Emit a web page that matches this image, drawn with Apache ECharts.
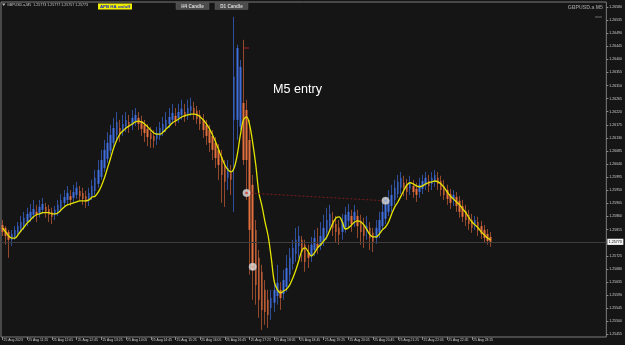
<!DOCTYPE html>
<html><head><meta charset="utf-8">
<script src="https://cdn.jsdelivr.net/npm/echarts@6/dist/echarts.min.js"></script>
<style>html,body{margin:0;padding:0;background:#151515;}#c{width:625px;height:345px;}</style>
</head><body><div id="c"></div>
<script>
const tickLabels = ["25 Aug 2023","25 Aug 11:25","25 Aug 12:05","25 Aug 12:45","25 Aug 13:25","25 Aug 14:05","25 Aug 14:45","25 Aug 15:25","25 Aug 16:05","25 Aug 16:45","25 Aug 17:25","25 Aug 18:05","25 Aug 18:45","25 Aug 19:25","25 Aug 20:05","25 Aug 20:45","25 Aug 21:25","25 Aug 22:05","25 Aug 22:45","25 Aug 23:25"];
const priceTicks = [1.26580,1.26535,1.26490,1.26445,1.26400,1.26355,1.26310,1.26265,1.26220,1.26175,1.26130,1.26085,1.26040,1.25995,1.25950,1.25905,1.25860,1.25815,1.25725,1.25680,1.25635,1.25590,1.25545,1.25500,1.25455];
const opens = [1.25831,1.25821,1.25807,1.25780,1.25790,1.25804,1.25817,1.25827,1.25841,1.25856,1.25866,1.25876,1.25873,1.25883,1.25893,1.25886,1.25876,1.25866,1.25876,1.25890,
1.25907,1.25917,1.25930,1.25924,1.25934,1.25948,1.25941,1.25930,1.25920,1.25930,1.25948,1.25972,1.25996,1.26027,1.26058,1.26086,1.26113,1.26140,1.26164,1.26154,
1.26168,1.26185,1.26175,1.26188,1.26199,1.26188,1.26175,1.26161,1.26147,1.26137,1.26126,1.26137,1.26150,1.26164,1.26178,1.26192,1.26206,1.26199,1.26209,1.26219,
1.26212,1.26223,1.26233,1.26223,1.26209,1.26192,1.26175,1.26157,1.26137,1.26113,1.26089,1.26065,1.26033,1.25993,1.26010,1.26192,1.26192,1.26168,1.26250,1.26226,
1.26123,1.25969,1.25814,1.25718,1.25670,1.25608,1.25574,1.25546,1.25564,1.25587,1.25608,1.25594,1.25618,1.25660,1.25697,1.25731,1.25759,1.25780,1.25763,1.25735,
1.25724,1.25745,1.25766,1.25759,1.25776,1.25804,1.25827,1.25848,1.25834,1.25821,1.25807,1.25824,1.25845,1.25862,1.25848,1.25862,1.25845,1.25827,1.25811,1.25821,
1.25804,1.25786,1.25804,1.25827,1.25852,1.25876,1.25896,1.25917,1.25937,1.25959,1.25976,1.25969,1.25955,1.25965,1.25955,1.25944,1.25955,1.25969,1.25982,1.25972,
1.25982,1.25993,1.25982,1.25965,1.25951,1.25937,1.25920,1.25927,1.25914,1.25896,1.25879,1.25866,1.25848,1.25834,1.25841,1.25827,1.25814,1.25800,1.25790];
const closes = [1.25807,1.25793,1.25780,1.25800,1.25814,1.25827,1.25841,1.25856,1.25869,1.25876,1.25886,1.25866,1.25893,1.25903,1.25876,1.25866,1.25859,1.25883,1.25900,1.25917,
1.25927,1.25941,1.25917,1.25944,1.25959,1.25930,1.25920,1.25910,1.25941,1.25965,1.25993,1.26020,1.26054,1.26089,1.26113,1.26140,1.26164,1.26185,1.26143,1.26178,
1.26192,1.26168,1.26199,1.26209,1.26178,1.26161,1.26147,1.26133,1.26126,1.26120,1.26147,1.26164,1.26178,1.26192,1.26202,1.26216,1.26188,1.26219,1.26230,1.26202,
1.26233,1.26240,1.26212,1.26195,1.26178,1.26157,1.26137,1.26113,1.26089,1.26061,1.26037,1.26003,1.25979,1.26027,1.25986,1.26340,1.26439,1.26374,1.26054,1.26054,
1.25814,1.25677,1.25625,1.25574,1.25539,1.25532,1.25522,1.25580,1.25608,1.25632,1.25580,1.25642,1.25683,1.25718,1.25752,1.25780,1.25793,1.25738,1.25704,1.25718,
1.25763,1.25786,1.25752,1.25793,1.25821,1.25848,1.25869,1.25821,1.25807,1.25797,1.25841,1.25866,1.25876,1.25834,1.25876,1.25827,1.25807,1.25793,1.25827,1.25786,
1.25773,1.25821,1.25848,1.25876,1.25900,1.25917,1.25934,1.25959,1.25979,1.25993,1.25959,1.25944,1.25976,1.25944,1.25934,1.25969,1.25982,1.25993,1.25965,1.25993,
1.26003,1.25972,1.25951,1.25934,1.25920,1.25907,1.25934,1.25896,1.25876,1.25859,1.25848,1.25834,1.25821,1.25848,1.25811,1.25800,1.25786,1.25776,1.25773];
const lows = [1.25793,1.25763,1.25718,1.25759,1.25780,1.25793,1.25807,1.25814,1.25827,1.25841,1.25852,1.25841,1.25856,1.25869,1.25856,1.25841,1.25834,1.25848,1.25862,1.25876,
1.25893,1.25903,1.25896,1.25907,1.25920,1.25914,1.25900,1.25890,1.25896,1.25917,1.25934,1.25959,1.25986,1.26013,1.26044,1.26072,1.26099,1.26123,1.26116,1.26137,
1.26150,1.26147,1.26157,1.26171,1.26157,1.26137,1.26116,1.26102,1.26096,1.26096,1.26106,1.26123,1.26137,1.26150,1.26164,1.26178,1.26171,1.26182,1.26192,1.26185,
1.26192,1.26206,1.26192,1.26178,1.26157,1.26130,1.26106,1.26082,1.26054,1.26027,1.25986,1.25907,1.25893,1.25951,1.25934,1.25876,1.26123,1.26157,1.26037,1.25917,
1.25660,1.25574,1.25557,1.25512,1.25470,1.25488,1.25477,1.25505,1.25532,1.25557,1.25539,1.25574,1.25601,1.25635,1.25677,1.25704,1.25718,1.25704,1.25670,1.25683,
1.25704,1.25724,1.25731,1.25745,1.25759,1.25780,1.25807,1.25793,1.25770,1.25763,1.25780,1.25804,1.25821,1.25807,1.25824,1.25786,1.25763,1.25752,1.25780,1.25745,
1.25738,1.25766,1.25786,1.25814,1.25834,1.25862,1.25876,1.25900,1.25924,1.25937,1.25930,1.25917,1.25934,1.25924,1.25910,1.25924,1.25937,1.25951,1.25944,1.25951,
1.25962,1.25951,1.25930,1.25917,1.25900,1.25886,1.25896,1.25876,1.25856,1.25841,1.25827,1.25814,1.25804,1.25814,1.25793,1.25783,1.25770,1.25763,1.25756];
const highs = [1.25848,1.25827,1.25814,1.25814,1.25827,1.25841,1.25862,1.25876,1.25890,1.25903,1.25917,1.25900,1.25917,1.25924,1.25907,1.25900,1.25890,1.25896,1.25917,1.25937,
1.25951,1.25965,1.25951,1.25969,1.25979,1.25965,1.25959,1.25948,1.25959,1.25986,1.26020,1.26054,1.26089,1.26123,1.26150,1.26175,1.26199,1.26219,1.26192,1.26209,
1.26219,1.26209,1.26226,1.26233,1.26219,1.26206,1.26192,1.26178,1.26168,1.26157,1.26168,1.26185,1.26202,1.26219,1.26233,1.26247,1.26233,1.26247,1.26261,1.26247,
1.26261,1.26268,1.26254,1.26240,1.26226,1.26212,1.26192,1.26175,1.26157,1.26133,1.26109,1.26089,1.26054,1.26054,1.26037,1.26546,1.26450,1.26398,1.26467,1.26261,
1.26192,1.26003,1.25848,1.25745,1.25694,1.25642,1.25608,1.25608,1.25642,1.25694,1.25635,1.25677,1.25728,1.25752,1.25780,1.25821,1.25827,1.25793,1.25780,1.25763,
1.25790,1.25814,1.25821,1.25841,1.25866,1.25890,1.25900,1.25876,1.25862,1.25848,1.25869,1.25893,1.25903,1.25883,1.25900,1.25883,1.25866,1.25856,1.25862,1.25841,
1.25821,1.25848,1.25876,1.25907,1.25927,1.25951,1.25969,1.25986,1.26003,1.26013,1.26000,1.25989,1.26000,1.25986,1.25976,1.25993,1.26003,1.26013,1.26003,1.26013,
1.26020,1.26013,1.26000,1.25986,1.25969,1.25955,1.25951,1.25944,1.25930,1.25917,1.25900,1.25883,1.25869,1.25862,1.25859,1.25845,1.25831,1.25817,1.25807];
const hma = [1.25821,1.25807,1.25793,1.25786,1.25786,1.25797,1.25811,1.25824,1.25838,1.25848,1.25859,1.25866,1.25869,1.25873,1.25873,1.25873,1.25869,1.25869,1.25873,1.25883,
1.25893,1.25900,1.25903,1.25907,1.25910,1.25914,1.25914,1.25914,1.25917,1.25927,1.25930,1.25944,1.25965,1.25993,1.26027,1.26061,1.26096,1.26123,1.26143,1.26154,
1.26164,1.26171,1.26178,1.26185,1.26188,1.26185,1.26178,1.26168,1.26157,1.26147,1.26143,1.26143,1.26150,1.26161,1.26171,1.26182,1.26188,1.26195,1.26202,1.26206,
1.26209,1.26212,1.26212,1.26209,1.26202,1.26192,1.26178,1.26161,1.26140,1.26116,1.26089,1.26061,1.26037,1.26020,1.26013,1.26027,1.26072,1.26140,1.26192,1.26202,
1.26175,1.26113,1.26037,1.25941,1.25896,1.25841,1.25793,1.25718,1.25635,1.25608,1.25598,1.25604,1.25611,1.25625,1.25649,1.25677,1.25711,1.25745,1.25752,1.25738,
1.25724,1.25735,1.25752,1.25763,1.25776,1.25790,1.25814,1.25838,1.25856,1.25859,1.25841,1.25817,1.25821,1.25831,1.25841,1.25845,1.25841,1.25831,1.25814,1.25797,
1.25790,1.25790,1.25800,1.25814,1.25824,1.25841,1.25869,1.25893,1.25910,1.25930,1.25951,1.25969,1.25976,1.25972,1.25965,1.25962,1.25965,1.25972,1.25976,1.25979,
1.25982,1.25979,1.25972,1.25959,1.25944,1.25930,1.25920,1.25910,1.25900,1.25886,1.25873,1.25856,1.25841,1.25831,1.25821,1.25807,1.25797,1.25786,1.25780];
const entryPoints = [[79,1.25941],[81,1.25687],[124,1.25914]];
const entryLine = [[79,1.25941],[124,1.25914]];
const stopMark = [[79,1.26439]];
const lastPrice = 1.25773;
const headerText = "GBPUSD.a,M5  1.25773 1.25777 1.25757 1.25773";
const symbolText = "GBPUSD.a M5";
const noteText = "M5 entry";

const SLOTS = 196;
const cats = Array.from({length: SLOTS}, (_, k) => String(k));
const isBull = i => closes[i] >= opens[i];
const wickData = opens.map((o, i) => isBull(i) ? [lows[i], highs[i], lows[i], highs[i]] : [highs[i], lows[i], lows[i], highs[i]]);
const bodyData = opens.map((o, i) => [o, closes[i], Math.min(o, closes[i]), Math.max(o, closes[i])]);
const showTick = (idx) => idx % 8 === 0 && idx / 8 < tickLabels.length;
const FF = '"Liberation Sans", Arial, sans-serif';

const chart = echarts.init(document.getElementById('c'), null, {renderer: 'canvas'});
chart.setOption({
  animation: false,
  backgroundColor: '#151515',
  grid: {left: 1, right: 18, top: 2, bottom: 8, show: true, borderColor: '#7c7c7c', borderWidth: 1},
  xAxis: {
    type: 'category', data: cats, boundaryGap: true,
    axisLine: {show: false},
    axisTick: {show: true, interval: showTick, alignWithLabel: true, length: 3, lineStyle: {color: '#8a8a8a', width: 1}},
    axisLabel: {interval: showTick, formatter: (v, idx) => tickLabels[idx / 8] || '', align: 'left', margin: 1.5, fontSize: 3.4, color: '#cfcfcf', fontFamily: FF, padding: [0, 0, 0, 1]},
    splitLine: {show: false}
  },
  yAxis: {
    type: 'value', position: 'right', min: 1.25446, max: 1.26597,
    axisLine: {show: false},
    axisTick: {show: true, customValues: priceTicks, length: 2, lineStyle: {color: '#8a8a8a'}},
    axisLabel: {customValues: priceTicks, formatter: v => v.toFixed(5), fontSize: 3.5, color: '#cfcfcf', margin: 3, fontFamily: FF},
    splitLine: {show: false}
  },
  series: [
    {
      type: 'line', name: 'priceLine', data: [], symbol: 'none', z: 1,
      markLine: {
        silent: true, symbol: 'none', animation: false, precision: 5,
        data: [{yAxis: lastPrice}],
        lineStyle: {color: '#3d3d3d', type: 'solid', width: 1},
        label: {show: true, position: 'end', formatter: lastPrice.toFixed(5), backgroundColor: '#f2f2f2', color: '#000', fontSize: 3.6, fontFamily: FF, padding: [1.2, 1.5, 1, 1.5], distance: 1}
      }
    },
    {
      type: 'candlestick', name: 'wick', data: wickData, barWidth: 1,
      itemStyle: {color: '#2f4f9c', color0: '#94482c', borderColor: '#2f4f9c', borderColor0: '#94482c', borderWidth: 1}
    },
    {
      type: 'candlestick', name: 'body', data: bodyData, barWidth: 2,
      itemStyle: {color: '#3f6fdc', color0: '#e4703e', borderColor: '#3f6fdc', borderColor0: '#e4703e', borderWidth: 0}
    },
    {
      type: 'line', name: 'hma', data: hma, smooth: 0.35, symbol: 'none',
      lineStyle: {color: '#e4e400', width: 1.3}, z: 5
    },
    {
      type: 'line', name: 'entry', data: entryLine, symbol: 'none',
      lineStyle: {color: '#7e1c1c', width: 1, type: [2, 2]}, z: 6
    },
    {
      type: 'scatter', data: stopMark, symbol: 'rect', symbolSize: [5, 1.2],
      itemStyle: {color: '#b82020'}, z: 7
    },
    {
      type: 'scatter', data: entryPoints, symbol: 'circle', symbolSize: 7.5,
      itemStyle: {color: '#e2e2e2', borderColor: '#bdbdbd', borderWidth: 0.5}, z: 8
    },
    {
      type: 'scatter', data: entryPoints.map((p, i) => ({value: p, itemStyle: {color: ['#d02a2a', '#e0a080', '#90a4dc'][i]}})),
      symbol: 'circle', symbolSize: 2.6, z: 9
    }
  ],
  graphic: [
    {type: 'polygon', shape: {points: [[2, 3.5], [5.5, 3.5], [3.75, 6]]}, style: {fill: '#bdbdbd'}},
    {type: 'text', x: 7, y: 4.8, style: {text: headerText, fill: '#c8c8c8', fontSize: 3.6, fontFamily: FF, textVerticalAlign: 'middle'}},
    {type: 'rect', shape: {x: 98, y: 3.5, width: 34, height: 6}, style: {fill: '#f0f000'}},
    {type: 'text', x: 115, y: 6.6, style: {text: 'APB HA on/off', fill: '#1c28c8', fontSize: 4.4, fontWeight: 'bold', fontFamily: FF, textAlign: 'center', textVerticalAlign: 'middle'}},
    {type: 'rect', shape: {x: 176, y: 3, width: 33, height: 6.5}, style: {fill: '#4b4b4b', stroke: '#5e5e5e', lineWidth: 0.5}},
    {type: 'text', x: 192.5, y: 6.4, style: {text: 'H4 Candle', fill: '#dadada', fontSize: 4.6, fontWeight: 'bold', fontFamily: FF, textAlign: 'center', textVerticalAlign: 'middle'}},
    {type: 'rect', shape: {x: 215, y: 3, width: 33, height: 6.5}, style: {fill: '#4b4b4b', stroke: '#5e5e5e', lineWidth: 0.5}},
    {type: 'text', x: 231.5, y: 6.4, style: {text: 'D1 Candle', fill: '#dadada', fontSize: 4.6, fontWeight: 'bold', fontFamily: FF, textAlign: 'center', textVerticalAlign: 'middle'}},
    {type: 'text', x: 603, y: 7.8, style: {text: symbolText, fill: '#8a8a8a', fontSize: 5.2, fontWeight: 'bold', fontFamily: FF, textAlign: 'right', textVerticalAlign: 'middle'}},
    {type: 'line', shape: {x1: 595, y1: 17, x2: 602, y2: 17}, style: {stroke: '#6a6a6a', lineWidth: 1}},
    {type: 'text', x: 273, y: 90, style: {text: noteText, fill: '#ffffff', fontSize: 12.6, fontFamily: FF, textVerticalAlign: 'middle'}}
  ]
});
</script>
</body></html>
